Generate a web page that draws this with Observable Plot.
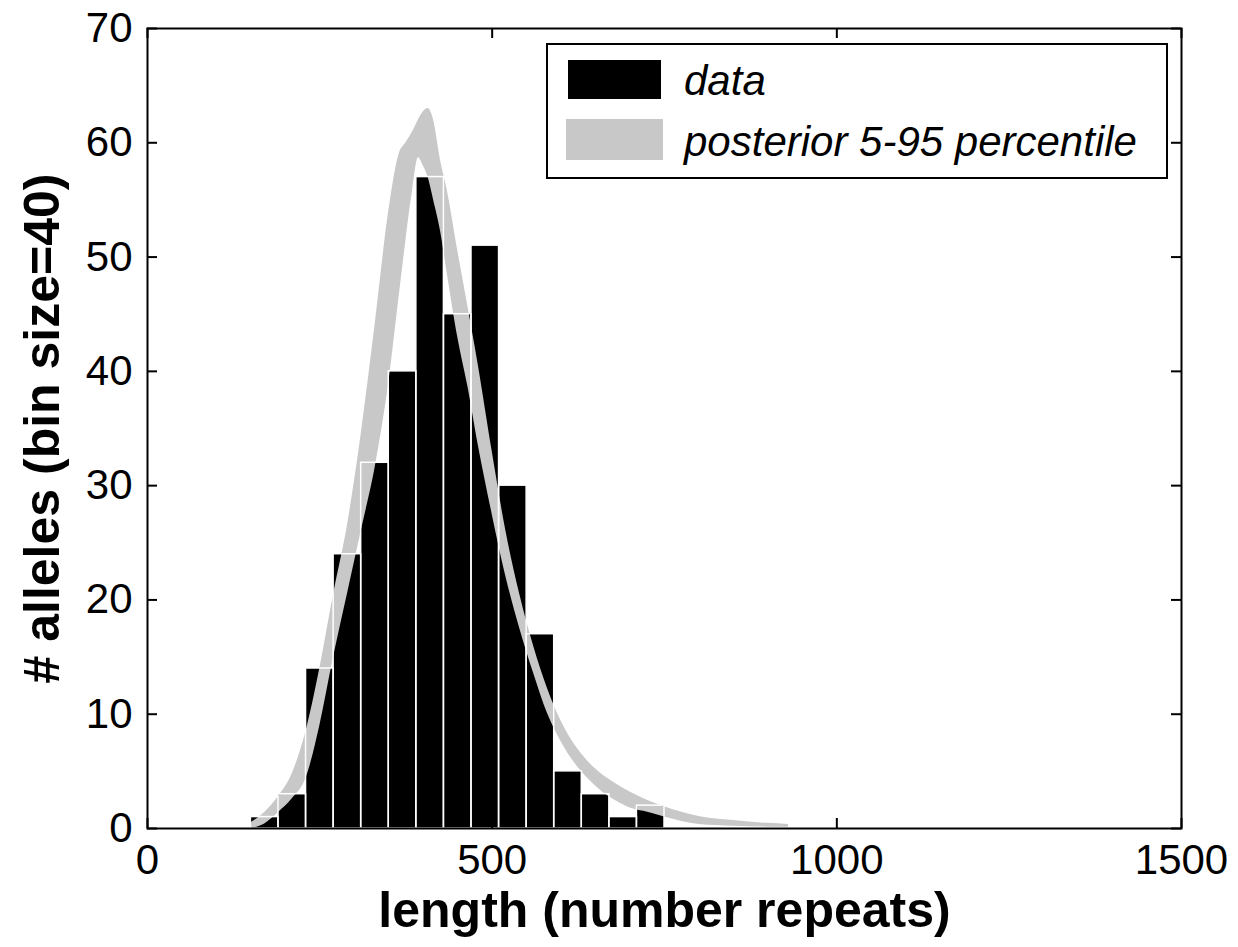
<!DOCTYPE html>
<html>
<head>
<meta charset="utf-8">
<script src="https://cdn.jsdelivr.net/npm/d3@7"></script>
<script src="https://cdn.jsdelivr.net/npm/@observablehq/plot@0.6"></script>
<style>
  html, body { margin: 0; padding: 0; background: white; }
  #chart { width: 1238px; height: 947px; }
</style>
</head>
<body>
<div id="chart"></div>
<script>
// Histogram: bin start (number repeats), bin size 40
const binStart = [150, 190, 230, 270, 310, 350, 390, 430, 470, 510, 550, 590, 630, 670, 710];
const binCounts = [1, 3, 14, 24, 32, 40, 57, 45, 51, 30, 17, 5, 3, 1, 2];
const binSize = 40;

// Posterior 5-95 percentile band
const bandX     = [150, 170, 190, 210, 230, 250, 270, 290, 310, 330, 350, 365, 375, 385, 393, 400, 407, 415, 425, 435, 450, 465, 480, 500, 520, 540, 560, 580, 600, 620, 640, 660, 680, 700, 720, 750, 800, 850, 900, 930];
const bandUpper = [0.5, 1.4, 2.8, 4.8, 8.5, 14, 20.5, 26.5, 34.5, 44, 54, 59, 60, 61, 62, 62.7, 63, 62, 58.5, 55.8, 50.6, 45.6, 40.5, 33, 26, 20.5, 16, 12.3, 9.4, 7.3, 5.8, 4.7, 3.9, 3.2, 2.6, 1.9, 1.05, 0.7, 0.45, 0.35];
const bandLower = [0, 0.4, 1.4, 2.6, 4.4, 9, 15, 20.5, 26, 31.5, 39, 46.5, 51.5, 56, 58.7, 58, 57, 55, 52.3, 48.5, 43, 38.6, 33.5, 27.5, 22, 17.5, 13.6, 10.1, 7.6, 5.7, 4.3, 3.2, 2.4, 1.8, 1.5, 1.0, 0.35, 0.2, 0.12, 0.1];

const xTicks = [0, 500, 1000, 1500];
const yTicks = [0, 10, 20, 30, 40, 50, 60, 70];
const xLabel = "length (number repeats)";
const yLabel = "# alleles (bin size=40)";
const legendLabels = ["data", "posterior 5-95 percentile"];
const barColor = "black";
const bandColor = "#c8c8c8";

const bars = binStart.map((s, i) => ({x1: s, x2: s + binSize, y: binCounts[i]}));
const band = bandX.map((x, i) => ({x, lo: bandLower[i], hi: bandUpper[i]}));

const W = 1238, H = 947;
const mL = 147, mR = 57, mT = 28, mB = 119;
const fw = W - mL - mR, fh = H - mT - mB;
const tick = 10;
const font = "'Liberation Sans', Arial, Helvetica, sans-serif";

const chart = Plot.plot({
  width: W, height: H,
  marginLeft: mL, marginRight: mR, marginTop: mT, marginBottom: mB,
  x: {domain: [0, 1500]},
  y: {domain: [0, 70]},
  style: {fontFamily: font, background: "white", color: "black"},
  marks: [
    Plot.rectY(bars, {x1: "x1", x2: "x2", y: "y", fill: barColor}),
    Plot.areaY(band, {x: "x", y1: "lo", y2: "hi", fill: bandColor, curve: "monotone-x"}),
    Plot.rectY(bars, {x1: "x1", x2: "x2", y: "y", fill: "none", stroke: "white", strokeWidth: 1.5}),
    // inward ticks on all four sides
    Plot.tickX(xTicks, {x: d => d, stroke: "black", strokeWidth: 2, insetTop: fh - tick}),
    Plot.tickX(xTicks, {x: d => d, stroke: "black", strokeWidth: 2, insetBottom: fh - tick}),
    Plot.tickY(yTicks, {y: d => d, stroke: "black", strokeWidth: 2, insetRight: fw - tick}),
    Plot.tickY(yTicks, {y: d => d, stroke: "black", strokeWidth: 2, insetLeft: fw - tick}),
    Plot.axisX({ticks: xTicks, tickFormat: d => String(d), tickSize: 0, tickPadding: 16, fontSize: 42, label: null}),
    Plot.axisY({ticks: yTicks, tickFormat: d => String(d), tickSize: 0, tickPadding: 15, fontSize: 42, label: null}),
    Plot.text([xLabel], {text: d => d, frameAnchor: "bottom", textAnchor: "middle", lineAnchor: "middle", dy: 82, fontSize: 50, fontWeight: "bold"}),
    Plot.text([yLabel], {text: d => d, frameAnchor: "left", textAnchor: "middle", lineAnchor: "middle", dx: -105, rotate: -90, fontSize: 50, fontWeight: "bold"}),
    Plot.frame({stroke: "black", strokeWidth: 2})
  ]
});

// Legend box inside the plot area (top right)
const svg = d3.select(chart);
const lg = svg.append("g").attr("font-family", font).attr("text-anchor", "start");
lg.append("rect").attr("x", 547).attr("y", 44).attr("width", 620).attr("height", 134)
  .attr("fill", "white").attr("stroke", "black").attr("stroke-width", 2);
lg.append("rect").attr("x", 568).attr("y", 60).attr("width", 93).attr("height", 39).attr("fill", barColor);
lg.append("rect").attr("x", 566).attr("y", 119).attr("width", 97).attr("height", 41).attr("fill", bandColor);
legendLabels.forEach((t, i) => {
  lg.append("text").attr("x", 684).attr("y", i === 0 ? 80 : 141)
    .attr("dy", "0.35em").attr("font-size", 42).attr("font-style", "italic")
    .attr("text-anchor", "start").attr("fill", "black").text(t);
});

document.getElementById("chart").appendChild(chart);
</script>
</body>
</html>
